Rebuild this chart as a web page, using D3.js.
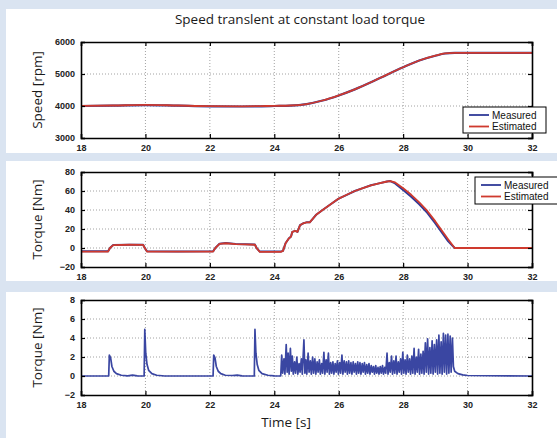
<!DOCTYPE html>
<html><head><meta charset="utf-8">
<script src="https://cdn.jsdelivr.net/npm/d3@7"></script>
<style>
html,body{margin:0;padding:0;background:#dae4f1;}
svg{display:block;}
</style></head>
<body>
<svg id="chart" width="557" height="438"></svg>
<script>
// ---------- DATA ----------
const titleText = "Speed translent at constant load torque";
const xLabel = "Time [s]";
const seriesNames = ["Measured", "Estimated"];
const xTicks = [18, 20, 22, 24, 26, 28, 30, 32];

// Panel 1: speed [rpm]
const speedTicks = [3000, 4000, 5000, 6000];
const speedTime = [18, 19, 20, 21, 22, 23, 24, 24.5, 25, 25.5, 26, 26.5, 27, 27.5, 28, 28.5, 29, 29.3, 29.6, 30, 31, 32];
const speedMeasured = [4000, 4010, 4030, 4010, 3990, 3985, 4000, 4012, 4060, 4170, 4330, 4520, 4740, 4980, 5210, 5420, 5570, 5640, 5660, 5660, 5660, 5660];
const speedEstimated = [4005, 4015, 4035, 4015, 3995, 3990, 4005, 4015, 4062, 4172, 4332, 4522, 4742, 4982, 5212, 5422, 5572, 5642, 5662, 5662, 5662, 5662];

// Panel 2: load torque [Nm]
const torqueTicks = [-20, 0, 20, 40, 60, 80];
const torqueTime = [18, 18.84, 18.9, 19.0, 19.5, 19.93, 19.98, 20.05, 21, 22.1, 22.17, 22.3, 22.5, 22.8, 23.1, 23.4, 23.45, 23.55, 24.2,
  24.27, 24.35, 24.45, 24.52, 24.56, 24.65, 24.72, 24.8, 24.9, 25.0, 25.1, 25.2, 25.3, 25.5, 25.75, 26, 26.25, 26.5, 26.75, 27, 27.25, 27.5, 27.6,
  27.75, 28, 28.25, 28.5, 28.75, 29, 29.25, 29.4, 29.6, 30, 31, 32];
const torqueMeasured = [-3.5, -3.5, 0, 3.2, 3.5, 3.3, 0, -3.5, -3.8, -3.5, 0, 4.5, 5.2, 4.2, 4.0, 3.6, 0, -3.8, -3.8,
  -3, 5, 10, 12, 17, 18, 17, 24, 26, 27, 27, 31, 35, 40, 46, 52, 56, 60, 63, 66, 68, 70, 70.5,
  68, 61, 54, 46, 37, 26, 14, 7, 0, 0, 0, 0];
const torqueEstimated = [-3.8, -3.8, 0, 3.0, 3.4, 3.2, 0, -3.8, -3.9, -3.8, 0, 4.3, 5.0, 4.0, 3.9, 3.4, 0, -4.0, -4.0,
  -3, 5, 10, 12, 17, 18, 17, 24, 26, 27, 27, 31, 35, 40, 46, 52, 56, 60, 63, 66, 68, 70, 70.5,
  69, 63, 56, 48, 39, 28, 16, 9, 0, 0, 0, 0];

// Panel 3: torque error [Nm]
const errTicks = [-2, 0, 2, 4, 6, 8];
const errTime = [18, 18.86, 18.88, 18.92, 18.96, 19.02, 19.1, 19.25, 19.45, 19.6, 19.75, 19.96, 19.98, 20.01, 20.05, 20.1, 20.2, 20.35, 20.6,
  22.1, 22.12, 22.16, 22.2, 22.26, 22.34, 22.48, 22.7, 22.85, 23.0, 23.38, 23.40, 23.43, 23.47, 23.52, 23.62, 23.8, 24.0,
  24.20, 24.23, 24.26, 24.30, 24.33, 24.37, 24.40, 24.43, 24.46, 24.50, 24.53, 24.56, 24.59, 24.63, 24.66, 24.70, 24.73, 24.77, 24.80, 24.84, 24.87,
  24.92, 24.95, 24.98, 25.01, 25.05, 25.08, 25.12, 25.15, 25.19, 25.22, 25.26, 25.29, 25.33, 25.36, 25.40, 25.43, 25.47, 25.50, 25.54, 25.57,
  25.61, 25.64, 25.68, 25.71, 25.75, 25.78, 25.82, 25.85, 25.89, 25.92, 25.96, 25.99, 26.03, 26.06, 26.10, 26.13, 26.17, 26.20, 26.24, 26.27,
  26.31, 26.34, 26.38, 26.41, 26.45, 26.48, 26.52, 26.55, 26.59, 26.62, 26.66, 26.69, 26.73, 26.76, 26.80, 26.83, 26.87, 26.90, 26.94, 26.97,
  27.01, 27.04, 27.08, 27.11, 27.15, 27.18, 27.22, 27.25, 27.29, 27.32, 27.36, 27.39, 27.43, 27.46, 27.50, 27.53, 27.57, 27.60, 27.64, 27.67,
  27.71, 27.74, 27.78, 27.81, 27.85, 27.88, 27.92, 27.95, 27.99, 28.02, 28.06, 28.09, 28.13, 28.16, 28.20, 28.23, 28.27, 28.30, 28.34, 28.37,
  28.41, 28.44, 28.48, 28.51, 28.55, 28.58, 28.62, 28.65, 28.69, 28.72, 28.76, 28.79, 28.83, 28.86, 28.90, 28.93, 28.97, 29.00, 29.04, 29.07,
  29.11, 29.14, 29.18, 29.21, 29.25, 29.28, 29.32, 29.35, 29.39, 29.42, 29.46, 29.49, 29.53, 29.56, 29.60, 29.70, 29.85, 30.0, 32];
const errValue = [0, 0, 2.2, 1.9, 1.0, 0.5, 0.25, 0.08, 0.02, 0.1, 0.02, 0, 4.9, 2.4, 1.2, 0.6, 0.25, 0.08, 0,
  0, 2.2, 1.9, 1.0, 0.5, 0.25, 0.08, 0.05, 0.1, 0.02, 0, 4.9, 2.4, 1.2, 0.6, 0.25, 0.08, 0.02,
  0.0, 2.2, 0.3, 1.8, 0.2, 3.3, 0.4, 2.4, 0.2, 2.9, 0.5, 2.1, 0.2, 1.5, 0.3, 2.0, 0.2, 1.3, 0.4, 1.8, 0.2,
  3.8, 0.3, 1.7, 0.2, 2.4, 0.4, 1.6, 0.2, 2.0, 0.3, 1.8, 0.2, 1.5, 0.4, 1.7, 0.2, 1.3, 0.3, 2.5, 0.2,
  1.7, 0.4, 2.4, 0.2, 1.4, 0.3, 1.5, 0.2, 1.3, 0.4, 1.6, 0.2, 1.4, 0.3, 2.2, 0.2, 1.6, 0.4, 1.5, 0.2,
  1.6, 0.3, 1.4, 0.2, 1.5, 0.4, 1.3, 0.2, 1.5, 0.3, 1.4, 0.2, 1.3, 0.4, 1.4, 0.2, 1.2, 0.3, 1.3, 0.2,
  1.1, 0.4, 1.0, 0.2, 1.1, 0.3, 0.9, 0.2, 1.0, 0.3, 1.1, 0.2, 0.9, 0.3, 2.4, 0.2, 1.4, 0.4, 2.1, 0.2,
  1.6, 0.3, 2.1, 0.2, 1.5, 0.4, 1.8, 0.2, 2.5, 0.3, 1.7, 0.2, 2.2, 0.4, 1.8, 0.2, 2.1, 0.3, 2.9, 0.2,
  2.0, 0.4, 2.8, 0.2, 2.3, 0.3, 2.6, 0.2, 3.5, 0.4, 3.9, 0.2, 3.0, 0.3, 3.7, 0.2, 3.3, 0.4, 3.8, 0.2,
  4.3, 0.3, 3.6, 0.2, 4.5, 0.4, 4.3, 0.2, 4.4, 0.3, 4.2, 0.4, 4.0, 1.0, 0.5, 0.25, 0.12, 0.05, 0.0];

// ---------- DRAWING ----------
const svg = d3.select("#chart");
const W = 557, H = 438;
const BLUE = "#2f3a98", RED = "#cf3a2e";
const tickFont = "'Liberation Sans', Arial, sans-serif";
const labelFont = "'Open Sans', 'Noto Sans', sans-serif";

svg.append("rect").attr("width", W).attr("height", H).attr("fill", "#dae4f1");
// white panels
[[9, 153], [161, 281], [292, 438]].forEach(([y0, y1]) => {
  svg.append("rect").attr("x", 6).attr("y", y0).attr("width", W - 6).attr("height", y1 - y0).attr("fill", "#ffffff");
});

const x = d3.scaleLinear().domain([18, 32]).range([81, 532]);

svg.append("text").attr("x", 300).attr("y", 24).attr("text-anchor", "middle")
  .attr("font-family", labelFont).attr("font-size", 13.5).attr("fill", "#1a1a1a").text(titleText);

function panel(cfg) {
  const y = d3.scaleLinear().domain(cfg.domain).range([cfg.bottom, cfg.top]);
  const g = svg.append("g");
  // grid
  g.append("g").selectAll("line").data(xTicks.slice(1, -1)).join("line")
    .attr("x1", d => x(d)).attr("x2", d => x(d)).attr("y1", cfg.top).attr("y2", cfg.bottom)
    .attr("stroke", "#8a8a8a").attr("stroke-width", 0.8).attr("stroke-dasharray", "1,2");
  g.append("g").selectAll("line").data(cfg.ticks.slice(1, -1)).join("line")
    .attr("x1", 81).attr("x2", 532).attr("y1", d => y(d)).attr("y2", d => y(d))
    .attr("stroke", "#8a8a8a").attr("stroke-width", 0.8).attr("stroke-dasharray", "1,2");

  const clip = "clip" + cfg.id;
  svg.append("clipPath").attr("id", clip).append("rect")
    .attr("x", 81).attr("y", cfg.top).attr("width", 451).attr("height", cfg.bottom - cfg.top);

  cfg.series.forEach(s => {
    const line = d3.line().x((d, i) => x(cfg.time[i])).y(d => y(d)).curve(cfg.curve || d3.curveLinear);
    g.append("path").attr("d", line(s.values)).attr("fill", "none")
      .attr("stroke", s.color).attr("stroke-width", s.width).attr("stroke-linejoin", "round")
      .attr("clip-path", `url(#${clip})`);
  });

  // axes (ticks inside)
  const axB = d3.axisBottom(x).tickValues(xTicks).tickSize(-4).tickPadding(7).tickFormat(d3.format("d"));
  const axT = d3.axisTop(x).tickValues(xTicks).tickSize(-4).tickFormat("");
  const axL = d3.axisLeft(y).tickValues(cfg.ticks).tickSize(-4).tickPadding(6).tickFormat(d3.format("d"));
  const axR = d3.axisRight(y).tickValues(cfg.ticks).tickSize(-4).tickFormat("");
  const style = sel => {
    sel.select(".domain").attr("stroke", "#000").attr("stroke-width", 1.6);
    sel.selectAll(".tick line").attr("stroke", "#000").attr("stroke-width", 1.2);
    sel.selectAll("text").attr("font-family", tickFont).attr("font-size", 9).attr("fill", "#222").attr("font-weight", "bold");
  };
  g.append("g").attr("transform", `translate(0,${cfg.bottom})`).call(axB).call(style);
  g.append("g").attr("transform", `translate(0,${cfg.top})`).call(axT).call(style);
  g.append("g").attr("transform", `translate(81,0)`).call(axL).call(style);
  g.append("g").attr("transform", `translate(532,0)`).call(axR).call(style);

  // y label
  svg.append("text").attr("transform", `translate(42,${(cfg.top + cfg.bottom) / 2}) rotate(-90)`)
    .attr("text-anchor", "middle").attr("font-family", labelFont).attr("font-size", 13.5)
    .attr("fill", "#1a1a1a").text(cfg.label);

  if (cfg.legend) {
    const L = cfg.legend;
    const lg = svg.append("g");
    lg.append("rect").attr("x", L.x).attr("y", L.y).attr("width", L.w).attr("height", L.h)
      .attr("fill", "#fff").attr("stroke", "#000").attr("stroke-width", 1);
    [BLUE, RED].forEach((c, i) => {
      const yy = L.y + 8 + i * 11.5;
      lg.append("line").attr("x1", L.x + 6).attr("x2", L.x + 26).attr("y1", yy).attr("y2", yy)
        .attr("stroke", c).attr("stroke-width", 1.8);
      lg.append("text").attr("x", L.x + 29).attr("y", yy + 3.5).attr("font-family", tickFont)
        .attr("font-size", 10).attr("fill", "#111").text(seriesNames[i]);
    });
  }
}

panel({ id: 1, domain: [3000, 6000], top: 42, bottom: 138, ticks: speedTicks, time: speedTime,
  label: "Speed [rpm]", curve: d3.curveMonotoneX,
  series: [{ values: speedMeasured, color: BLUE, width: 2.2 }, { values: speedEstimated, color: RED, width: 1.8 }],
  legend: { x: 463, y: 107, w: 83, h: 26 } });

panel({ id: 2, domain: [-20, 80], top: 172, bottom: 267, ticks: torqueTicks, time: torqueTime,
  label: "Torque [Nm]",
  series: [{ values: torqueMeasured, color: BLUE, width: 2.0 }, { values: torqueEstimated, color: RED, width: 1.8 }],
  legend: { x: 475, y: 177, w: 90, h: 27 } });

panel({ id: 3, domain: [-2, 8], top: 300, bottom: 395, ticks: errTicks, time: errTime,
  label: "Torque [Nm]",
  series: [{ values: errValue, color: "#3a46a2", width: 1.7 }] });

svg.append("text").attr("x", 286).attr("y", 427).attr("text-anchor", "middle")
  .attr("font-family", labelFont).attr("font-size", 13.5).attr("fill", "#1a1a1a").text(xLabel);
</script>
</body></html>
